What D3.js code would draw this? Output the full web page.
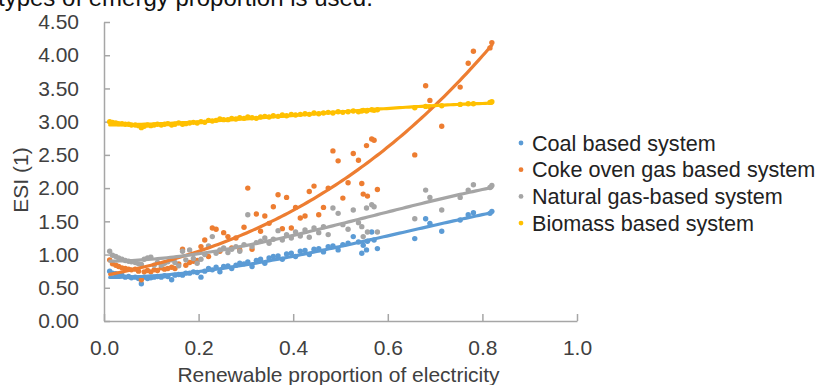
<!DOCTYPE html>
<html lang="en">
<head>
<meta charset="UTF-8">
<title>ESI vs renewable proportion</title>
<script src="https://cdn.jsdelivr.net/npm/d3@7/dist/d3.min.js"></script>
<style>
  body { margin: 0; padding: 0; background: #fff; overflow: hidden; }
  svg text { font-family: "Liberation Sans", Arial, sans-serif; }
  .axis path, .axis line { stroke: #a6a6a6; stroke-width: 1.5px; }
  .axis text { font-size: 21px; fill: #404040; }
</style>
</head>
<body>
<div id="chart"></div>
<script>
// shared renewable proportion for every scenario
const renewShare = [
  0.012, 0.018, 0.025, 0.031, 0.038, 0.045, 0.052, 0.058, 0.066, 0.073,
  0.079, 0.085, 0.092, 0.099, 0.106, 0.113, 0.121, 0.128, 0.135, 0.143,
  0.150, 0.158, 0.166, 0.173, 0.181, 0.189, 0.197, 0.205, 0.213, 0.221,
  0.229, 0.237, 0.245, 0.253, 0.262, 0.270, 0.279, 0.287, 0.296, 0.304,
  0.313, 0.322, 0.331, 0.340, 0.349, 0.358, 0.368, 0.377, 0.386, 0.396,
  0.405, 0.415, 0.425, 0.434, 0.444, 0.454, 0.464, 0.474, 0.484, 0.495,
  0.505, 0.516, 0.527, 0.538, 0.545, 0.548, 0.555, 0.557, 0.566, 0.571,
  0.578, 0.657, 0.680, 0.689, 0.714, 0.753, 0.770, 0.781, 0.816, 0.820
];

const coalESI = [
  0.75, 0.72, 0.71, 0.69, 0.69, 0.66, 0.67, 0.65, 0.66, 0.64,
  0.56, 0.66, 0.64, 0.65, 0.66, 0.67, 0.66, 0.68, 0.67, 0.62,
  0.69, 0.70, 0.69, 0.72, 0.72, 0.74, 0.73, 0.66, 0.75, 0.79,
  0.77, 0.81, 0.74, 0.82, 0.83, 0.79, 0.84, 0.87, 0.86, 0.89,
  0.82, 0.91, 0.93, 0.87, 0.95, 0.97, 0.98, 0.93, 1.01, 1.02,
  0.97, 1.05, 1.06, 1.00, 1.08, 1.09, 1.04, 1.12, 1.13, 1.07,
  1.15, 1.17, 1.27, 1.19, 1.02, 1.14, 1.07, 1.20, 1.34, 1.22,
  1.09, 1.24, 1.54, 1.47, 1.35, 1.52, 1.60, 1.63, 1.62, 1.65
];

const cokeESI = [
  0.92, 0.86, 0.84, 0.82, 0.80, 0.79, 0.78, 0.77, 0.78, 0.75,
  0.62, 0.74, 0.76, 0.74, 0.77, 0.76, 0.80, 0.78, 0.79, 0.81,
  0.79, 0.86, 1.08, 0.84, 0.88, 0.90, 0.91, 1.12, 1.22, 0.97,
  1.40, 1.38, 1.05, 1.33, 1.27, 1.10, 1.25, 1.07, 1.41, 2.00,
  1.08, 1.61, 1.35, 1.58, 1.47, 1.72, 1.90, 1.39, 1.86, 1.40,
  1.71, 1.55, 1.58, 1.95, 2.03, 1.60, 1.71, 2.00, 2.56, 2.41,
  1.85, 2.08, 2.52, 2.42, 2.07, 1.91, 2.64, 1.88, 2.74, 2.72,
  1.98, 2.50, 3.54, 3.32, 2.93, 3.52, 3.88, 4.06, 4.11, 4.19
];

const naturalGasESI = [
  1.05, 0.99, 0.97, 0.95, 0.93, 0.91, 0.90, 0.89, 0.88, 0.86,
  0.85, 0.93, 0.95, 0.96, 0.84, 0.88, 0.84, 0.87, 0.89, 0.92,
  0.88, 0.83, 1.05, 0.92, 1.07, 0.94, 0.87, 0.93, 1.00, 1.13,
  1.27, 1.02, 1.07, 1.10, 1.03, 1.08, 1.12, 1.05, 1.15, 1.60,
  1.12, 1.18, 1.20, 1.25, 1.17, 1.23, 1.36, 1.22, 1.30, 1.25,
  1.34, 1.28, 1.37, 1.26, 1.40, 1.33, 1.42, 1.30, 1.70, 1.62,
  1.45, 1.38, 1.67, 1.48, 1.42, 1.27, 1.70, 1.34, 1.75, 1.72,
  1.34, 1.54, 1.97, 1.86, 1.67, 1.86, 1.97, 2.05, 2.01, 2.04
];

const biomassESI = [
  3.00, 2.99, 2.98, 2.97, 2.97, 2.96, 2.96, 2.95, 2.95, 2.94,
  2.91, 2.93, 2.95, 2.94, 2.95, 2.96, 2.95, 2.96, 2.97, 2.95,
  2.96, 2.98, 2.96, 2.97, 2.98, 2.99, 2.98, 3.00, 2.99, 3.02,
  3.01, 3.02, 3.04, 3.03, 3.03, 3.05, 3.04, 3.06, 3.05, 3.07,
  3.06, 3.05, 3.07, 3.08, 3.07, 3.09, 3.08, 3.10, 3.09, 3.11,
  3.10, 3.11, 3.12, 3.11, 3.13, 3.12, 3.13, 3.14, 3.13, 3.15,
  3.14, 3.15, 3.16, 3.15, 3.16, 3.17, 3.16, 3.17, 3.18, 3.17,
  3.18, 3.21, 3.23, 3.22, 3.24, 3.26, 3.27, 3.27, 3.29, 3.30
];

const seriesNames = [
  "Coal based system",
  "Coke oven gas based system",
  "Natural gas-based system",
  "Biomass based system"
];
const seriesValues = [coalESI, cokeESI, naturalGasESI, biomassESI];
const seriesColors = ["#5b9bd5", "#ed7d31", "#a5a5a5", "#ffc000"];

const xTicks = [0, 0.2, 0.4, 0.6, 0.8, 1.0];
const yTicks = [0, 0.5, 1, 1.5, 2, 2.5, 3, 3.5, 4, 4.5];

const width = 819, height = 385;
const margin = { top: 22, right: 242, bottom: 64, left: 104 };

const svg = d3.select("#chart").append("svg")
  .attr("width", width)
  .attr("height", height);

// clipped caption line from the page above the figure
svg.append("text")
  .attr("x", -2)
  .attr("y", 6)
  .attr("font-size", 24)
  .attr("fill", "#111")
  .text("types of emergy proportion is used.");

const x = d3.scaleLinear().domain([0, 1]).range([margin.left, width - margin.right]);
const y = d3.scaleLinear().domain([0, 4.5]).range([height - margin.bottom, margin.top]);

svg.append("g")
  .attr("class", "axis")
  .attr("transform", `translate(0,${height - margin.bottom})`)
  .call(d3.axisBottom(x).tickValues(xTicks).tickFormat(d3.format(".1f"))
    .tickSizeInner(-7).tickSizeOuter(0).tickPadding(19));

svg.append("g")
  .attr("class", "axis")
  .attr("transform", `translate(${margin.left},0)`)
  .call(d3.axisLeft(y).tickValues(yTicks).tickFormat(d3.format(".2f"))
    .tickSizeInner(-6).tickSizeOuter(0).tickPadding(25));

svg.append("text")
  .attr("x", (x(0) + x(1)) / 2 - 2)
  .attr("y", 382)
  .attr("text-anchor", "middle")
  .attr("font-size", 21)
  .attr("fill", "#404040")
  .text("Renewable proportion of electricity");

svg.append("text")
  .attr("transform", "translate(28,180) rotate(-90)")
  .attr("text-anchor", "middle")
  .attr("font-size", 21)
  .attr("fill", "#404040")
  .text("ESI (1)");

// least squares polynomial, same as an order 3 trendline
function polyFit(xs, ys, order) {
  const n = order + 1;
  const A = [];
  for (let i = 0; i < n; i++) {
    A.push(new Array(n + 1).fill(0));
  }
  xs.forEach((xv, k) => {
    for (let i = 0; i < n; i++) {
      for (let j = 0; j < n; j++) A[i][j] += Math.pow(xv, i + j);
      A[i][n] += Math.pow(xv, i) * ys[k];
    }
  });
  for (let c = 0; c < n; c++) {
    let p = c;
    for (let r = c + 1; r < n; r++) if (Math.abs(A[r][c]) > Math.abs(A[p][c])) p = r;
    [A[c], A[p]] = [A[p], A[c]];
    for (let r = 0; r < n; r++) {
      if (r === c) continue;
      const f = A[r][c] / A[c][c];
      for (let j = c; j <= n; j++) A[r][j] -= f * A[c][j];
    }
  }
  return A.map((row, i) => row[n] / row[i]);
}

const dots = svg.append("g");
seriesValues.forEach((vals, s) => {
  dots.append("g")
    .selectAll("circle")
    .data(vals)
    .join("circle")
    .attr("cx", (d, i) => x(renewShare[i]))
    .attr("cy", d => y(d))
    .attr("r", 2.7)
    .attr("fill", seriesColors[s]);
});

const xMin = d3.min(renewShare), xMax = d3.max(renewShare);
const trendX = d3.range(0, 121).map(i => xMin + (xMax - xMin) * i / 120);
const line = d3.line().x(d => x(d[0])).y(d => y(d[1]));

seriesValues.forEach((vals, s) => {
  const c = polyFit(renewShare, vals, 3);
  const pts = trendX.map(t => [t, c[0] + c[1] * t + c[2] * t * t + c[3] * t * t * t]);
  svg.append("path")
    .datum(pts)
    .attr("d", line)
    .attr("fill", "none")
    .attr("stroke", seriesColors[s])
    .attr("stroke-width", 3.2)
    .attr("stroke-linecap", "round");
});

const legend = svg.append("g");
seriesNames.forEach((name, s) => {
  const row = legend.append("g").attr("transform", `translate(521,${143 + s * 26.7})`);
  row.append("circle").attr("r", 2.4).attr("fill", seriesColors[s]);
  row.append("text")
    .attr("x", 11)
    .attr("dy", "0.35em")
    .attr("font-size", 21.6)
    .attr("fill", "#222")
    .text(name);
});
</script>
</body>
</html>
